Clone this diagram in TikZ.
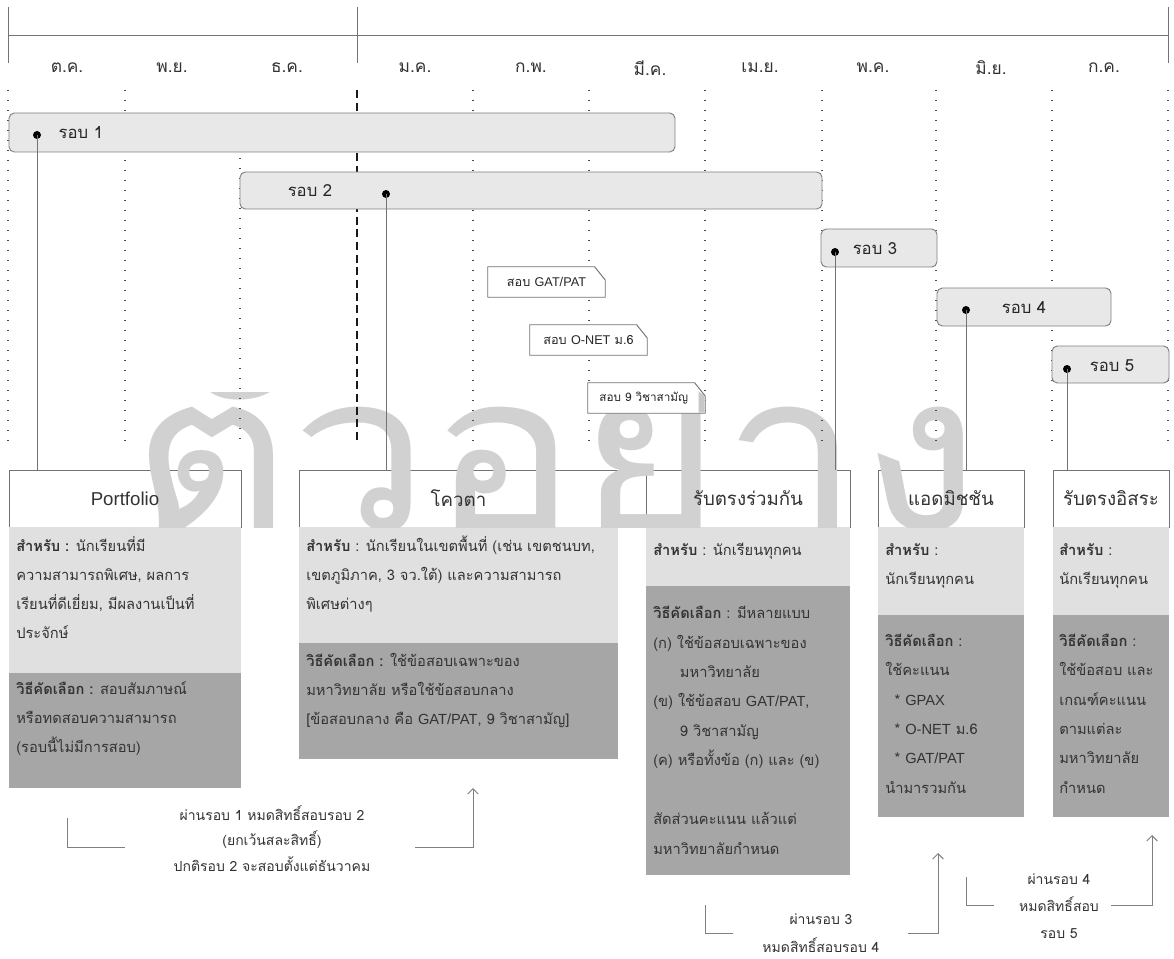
\documentclass[tikz,border=0pt]{standalone}
\usepackage{fontspec}
\setmainfont[Script=Thai]{Loma}
\newfontfamily\lat{Liberation Sans}
\usetikzlibrary{fit,arrows.meta,calc}
\newcommand\fsz[2]{\fontsize{#1}{#2}\selectfont}
\begin{document}
\begin{tikzpicture}[x=0.75pt,y=-0.75pt,
  rbox/.style={draw=black!50, fill=black!9, rounded corners=4pt, line width=0.7pt, inner sep=0pt},
  hdr/.style={draw=black!55, fill=white, line width=0.7pt, inner sep=0pt},
  lsec/.style={fill=black!12, draw=none, inner sep=0pt},
  dsec/.style={fill=black!35, draw=none, inner sep=0pt},
  body/.style={anchor=base west, align=left, font=\fsz{11}{21.75}, text=black!80, inner sep=0pt},
  hdrtxt/.style={font=\fsz{14}{16}, text=black!80},
  mon/.style={font=\fsz{13}{15}, text=black!80},
  rlab/.style={font=\fsz{12.5}{14}, text=black!85, anchor=center},
  dotv/.style={line width=1.1pt, dash pattern=on 1.1pt off 6.4pt, black!70},
  dashv/.style={line width=1.6pt, dash pattern=on 6pt off 3.5pt, black!90},
  hline/.style={draw=black!55, line width=0.7pt},
  dotn/.style={circle, fill=black, inner sep=0pt, minimum size=6pt},
  conn/.style={draw=black!55, line width=0.7pt},
  tagbox/.style={inner sep=0pt, minimum width=87.75pt, minimum height=22.5pt},
  tagtxt/.style={font=\fsz{9.5}{11}, text=black!85, inner sep=0pt},
  tagshape/.style={draw=black!55, fill=white, line width=0.7pt},
  note/.style={align=center, text=black!80, anchor=base, inner sep=0pt},
  brk/.style={draw=black!50, line width=0.7pt},
  arr/.style={brk, -{Straight Barb[length=4pt,width=8pt]}},
  wm/.style={font=\fsz{165}{165}, text=black!18, inner sep=0pt, text depth=0pt, text height=100pt}
]
\useasboundingbox (0,0) rectangle (1174,959);
\fill[white] (0,0) rectangle (1174,959);

% header lines
\coordinate (hl) at (8,35); \coordinate (hr) at (1168,35);
\draw[hline] (hl) -- (hr);
\draw[hline] (8,7) -- (8,63);
\draw[hline] (357,7) -- (357,63);
\draw[hline] (1168,7) -- (1168,63);

% months
\node[mon] (m1) at (67,68) {ต.ค.};
\node[mon] (m2) at (172,68) {พ.ย.};
\node[mon] (m3) at (287,68) {ธ.ค.};
\node[mon] (m4) at (415,68) {ม.ค.};
\node[mon] (m5) at (531,68) {ก.พ.};
\node[mon] (m6) at (650,68) {มี.ค.};
\node[mon] (m7) at (760,68) {เม.ย.};
\node[mon] (m8) at (873,68) {พ.ค.};
\node[mon] (m9) at (991,68) {มิ.ย.};
\node[mon] (m10) at (1104,68) {ก.ค.};

% bottom boxes
\node[hdr, fit={(9,470)(241,527)}] (pfh) {};
\node[lsec, fit={(9,527)(241,673)}] (pfl) {};
\node[dsec, fit={(9,673)(241,788)}] (pfd) {};
\node[hdr, fit={(299,470)(618,527)}] (qh) {};
\node[lsec, fit={(299,527)(618,643)}] (ql) {};
\node[dsec, fit={(299,643)(618,759)}] (qd) {};
\node[hdr, fit={(646,470)(850,527)}] (jh) {};
\node[lsec, fit={(646,527)(850,586)}] (jl) {};
\node[dsec, fit={(646,586)(850,875)}] (jd) {};
\node[hdr, fit={(878,470)(1024,527)}] (ah) {};
\node[lsec, fit={(878,527)(1024,615)}] (al) {};
\node[dsec, fit={(878,615)(1024,817)}] (ad) {};
\node[hdr, fit={(1053,470)(1169,527)}] (ih) {};
\node[lsec, fit={(1053,527)(1169,615)}] (il) {};
\node[dsec, fit={(1053,615)(1169,817)}] (id) {};

% watermark
\begin{scope}
\clip (100,392) rectangle (1000,527);
\node[wm, anchor=base, xscale=1.12] (wmk) at (556,530) {ตัวอย่าง};
\end{scope}

% dotted grid
\foreach \x in {8,125,473,589,705,822,936,1052,1168}
  \draw[dotv] (\x,90) -- (\x,442);
\draw[dotv] (240,158) -- (240,442);
\draw[dashv] (357,90) -- (357,442);

% round bars
\node[rbox, fit={(9,113)(675,152)}] (r1) {};
\node[rbox, fit={(240,172)(822,209)}] (r2) {};
\node[rbox, fit={(821,229)(937,267)}] (r3) {};
\node[rbox, fit={(937,288)(1111,326)}] (r4) {};
\node[rbox, fit={(1052,346)(1169,383)}] (r5) {};
\node[rlab, anchor=west] at (54,133) {รอบ 1};
\node[rlab] at (310,191) {รอบ 2};
\node[rlab] at (875,249) {รอบ 3};
\node[rlab] at (1024,308) {รอบ 4};
\node[rlab] at (1112,366) {รอบ 5};

% exam tags
\node[tagbox] (t1) at (546.5,282) {};
\node[tagbox] (t2) at (588.5,340) {};
\node[tagbox] (t3) at (646.5,398) {};
\foreach \t in {t1,t2,t3}{
  \draw[tagshape] (\t.north west) -- ($(\t.north east)+(-8pt,0)$) -- ($(\t.north east)+(0,-10pt)$) -- (\t.south east) -- (\t.south west) -- cycle;
}
\fill[black!22] ($(t3.north east)+(-5pt,-6.5pt)$) -- ($(t3.north east)+(-0.4pt,-10pt)$) -- ($(t3.south east)+(-0.4pt,0.4pt)$) -- ($(t3.south east)+(-5pt,0.4pt)$) -- cycle;
\node[tagtxt] at (t1) {สอบ {\lat GAT/PAT}};
\node[tagtxt] at (t2) {สอบ {\lat O-NET} ม.6};
\node[tagtxt, font=\fsz{8.8}{11}, xshift=-2pt] at (t3) {สอบ 9 วิชาสามัญ};

% dots and connectors
\node[dotn] (d1) at (37,135) {};
\node[dotn] (d2) at (386,194) {};
\node[dotn] (d3) at (835,252) {};
\node[dotn] (d4) at (966,310) {};
\node[dotn] (d5) at (1067,369) {};
\draw[conn] (d1.center) -- (d1.center |- pfh.north);
\draw[conn] (d2.center) -- (d2.center |- qh.north);
\draw[conn] (d3.center) -- (d3.center |- jh.north);
\draw[conn] (d4.center) -- (d4.center |- ah.north);
\draw[conn] (d5.center) -- (d5.center |- ih.north);

% header texts
\node[hdrtxt] at (pfh.center) {\lat Portfolio};
\node[hdrtxt] at (qh.center) {โควตา};
\node[hdrtxt] at (jh.center) {รับตรงร่วมกัน};
\node[hdrtxt] at (ah.center) {แอดมิชชัน};
\node[hdrtxt] at (ih.center) {รับตรงอิสระ};

% body texts (anchor = baseline of last line)
\node[body] at (16,638) {\textbf{สำหรับ :} นักเรียนที่มี\\ความสามารถพิเศษ, ผลการ\\เรียนที่ดีเยี่ยม, มีผลงานเป็นที่\\ประจักษ์};
\node[body] at (16,752) {\textbf{วิธีคัดเลือก :} สอบสัมภาษณ์\\หรือทดสอบความสามารถ\\(รอบนี้ไม่มีการสอบ)};
\node[body] at (306,609) {\textbf{สำหรับ} : นักเรียนในเขตพื้นที่ (เช่น เขตชนบท,\\เขตภูมิภาค, 3 จว.ใต้) และความสามารถ\\พิเศษต่างๆ};
\node[body] at (306,724) {\textbf{วิธีคัดเลือก :} ใช้ข้อสอบเฉพาะของ\\มหาวิทยาลัย หรือใช้ข้อสอบกลาง\\{[}ข้อสอบกลาง คือ {\lat GAT/PAT}, 9 วิชาสามัญ{]}};
\node[body] at (653,555) {\textbf{สำหรับ} : นักเรียนทุกคน};
\node[body, font=\fsz{11}{22}] at (653,854) {\textbf{วิธีคัดเลือก} : มีหลายแบบ\\(ก) ใช้ข้อสอบเฉพาะของ\\\hspace*{20pt}มหาวิทยาลัย\\(ข) ใช้ข้อสอบ {\lat GAT/PAT},\\\hspace*{20pt}9 วิชาสามัญ\\(ค) หรือทั้งข้อ (ก) และ (ข)\\[22.5pt]สัดส่วนคะแนน แล้วแต่\\มหาวิทยาลัยกำหนด};
\node[body] at (885,584) {\textbf{สำหรับ} :\\นักเรียนทุกคน};
\node[body, font=\fsz{11}{22}] at (885,793) {\textbf{วิธีคัดเลือก} :\\ใช้คะแนน\\\hspace*{7pt}* {\lat GPAX}\\\hspace*{7pt}* {\lat O-NET} ม.6\\\hspace*{7pt}* {\lat GAT/PAT}\\นำมารวมกัน};
\node[body] at (1059,584) {\textbf{สำหรับ} :\\นักเรียนทุกคน};
\node[body, font=\fsz{11}{22}] at (1059,793) {\textbf{วิธีคัดเลือก} :\\ใช้ข้อสอบ และ\\เกณฑ์คะแนน\\ตามแต่ละ\\มหาวิทยาลัย\\กำหนด};

% notes and brackets
\coordinate (b1a) at (67,818); \coordinate (b1b) at (125,847);
\coordinate (b1c) at (415,847); \coordinate (b1d) at (473,788);
\draw[brk] (b1a) |- (b1b);
\draw[arr] (b1c) -| (b1d);
\node[note, font=\fsz{10.5}{19.1}] (n1) at (272,871) {ผ่านรอบ 1 หมดสิทธิ์สอบรอบ 2\\(ยกเว้นสละสิทธิ์)\\ปกติรอบ 2 จะสอบตั้งแต่ธันวาคม};

\coordinate (b2a) at (705,905); \coordinate (b2b) at (733,933);
\coordinate (b2c) at (908,933); \coordinate (b2d) at (938,853);
\draw[brk] (b2a) |- (b2b);
\draw[arr] (b2c) -| (b2d);
\node[note, font=\fsz{10.5}{21}] (n2) at (821,952) {ผ่านรอบ 3\\หมดสิทธิ์สอบรอบ 4};

\coordinate (b3a) at (966,877); \coordinate (b3b) at (994,905);
\coordinate (b3c) at (1111,905); \coordinate (b3d) at (1152,835);
\draw[brk] (b3a) |- (b3b);
\draw[arr] (b3c) -| (b3d);
\node[note, font=\fsz{10.5}{20.25}] (n3) at (1059,938) {ผ่านรอบ 4\\หมดสิทธิ์สอบ\\รอบ 5};
\end{tikzpicture}
\end{document}
